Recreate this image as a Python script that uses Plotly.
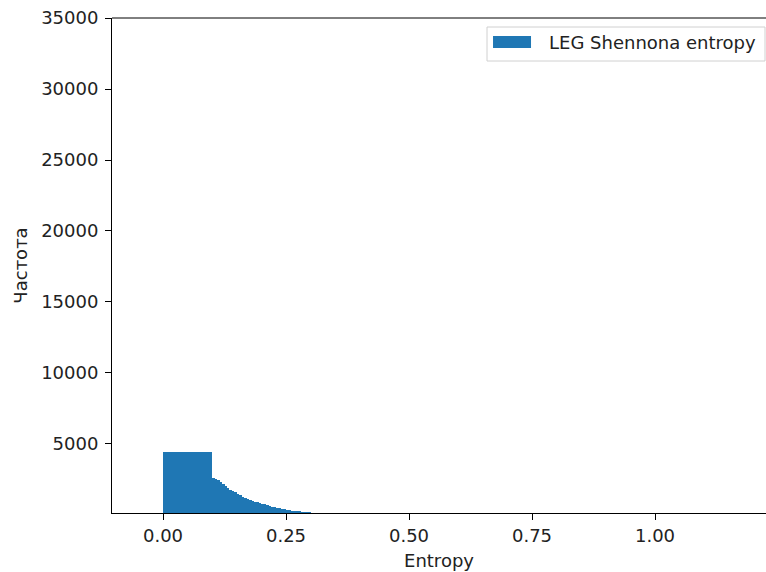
import plotly.graph_objects as go

# Histogram of LEG Shannon entropy: bin left edges, widths and counts
bin_left = [0.0] + [round(0.1 + 0.005 * i, 3) for i in range(40)]
bin_width = [0.1] + [0.005] * 40
counts = [
    4415,
    2570, 2535, 2430, 2320, 2180, 2040, 1900, 1795, 1690, 1585,
    1480, 1373, 1268, 1197, 1127, 1056, 986, 950, 880, 845,
    775, 740, 670, 634, 563, 528, 493, 458, 423, 387,
    352, 317, 282, 270, 250, 246, 240, 235, 230, 225,
]
series_name = "LEG Shennona entropy"
x_ticks = [0.0, 0.25, 0.5, 0.75, 1.0]
x_tick_text = ["0.00", "0.25", "0.50", "0.75", "1.00"]
y_ticks = [5000, 10000, 15000, 20000, 25000, 30000, 35000]

bar_color = "#1f77b4"
centers = [l + w / 2 for l, w in zip(bin_left, bin_width)]

fig = go.Figure()
fig.add_trace(go.Bar(
    x=centers, y=counts, width=bin_width, name=series_name,
    marker=dict(color=bar_color, line=dict(width=0)),
    showlegend=False,
))

axis_font = dict(family="DejaVu Sans", size=18, color="#222")
fig.update_layout(
    width=766, height=572,
    margin=dict(l=112, r=0, t=18, b=59),
    plot_bgcolor="white", paper_bgcolor="white",
    bargap=0,
    font=axis_font,
    xaxis=dict(
        range=[-0.1037, 1.2256], tickvals=x_ticks, ticktext=x_tick_text,
        showgrid=False, zeroline=False, showline=True, linecolor="black", linewidth=1,
        mirror=False, ticks="outside", ticklen=6, tickcolor="black",
        tickfont=axis_font,
        title=dict(text="Entropy", font=axis_font, standoff=9),
    ),
    yaxis=dict(
        range=[140, 35000], tickvals=y_ticks, tickformat="d",
        showgrid=False, zeroline=False, showline=True, linecolor="black", linewidth=1,
        ticks="outside", ticklen=6, tickcolor="black",
        tickfont=axis_font, ticklabelstandoff=3,
        title=dict(text="Частота", font=axis_font, standoff=8),
    ),
)
# top spine of the axes frame
fig.add_shape(type="line", xref="paper", yref="paper", x0=0, x1=1, y0=1, y1=1,
              line=dict(color="black", width=1))

# legend box in the upper right corner: frame, wide colour patch, label
fig.add_shape(type="rect", xref="paper", yref="paper",
              x0=0.5734, x1=0.9985, y0=0.9131, y1=0.9818,
              line=dict(color="#d0d0d0", width=1), fillcolor="rgba(255,255,255,0.8)")
fig.add_shape(type="rect", xref="paper", yref="paper",
              x0=0.5826, x1=0.6407, y0=0.9394, y1=0.9636,
              line=dict(width=0), fillcolor=bar_color)
fig.add_annotation(xref="paper", yref="paper", x=0.6651, y=0.9515,
                   xanchor="left", yanchor="middle", showarrow=False,
                   text=series_name,
                   font=dict(family="DejaVu Sans", size=18, color="#222"))

fig.write_html("out.html")
